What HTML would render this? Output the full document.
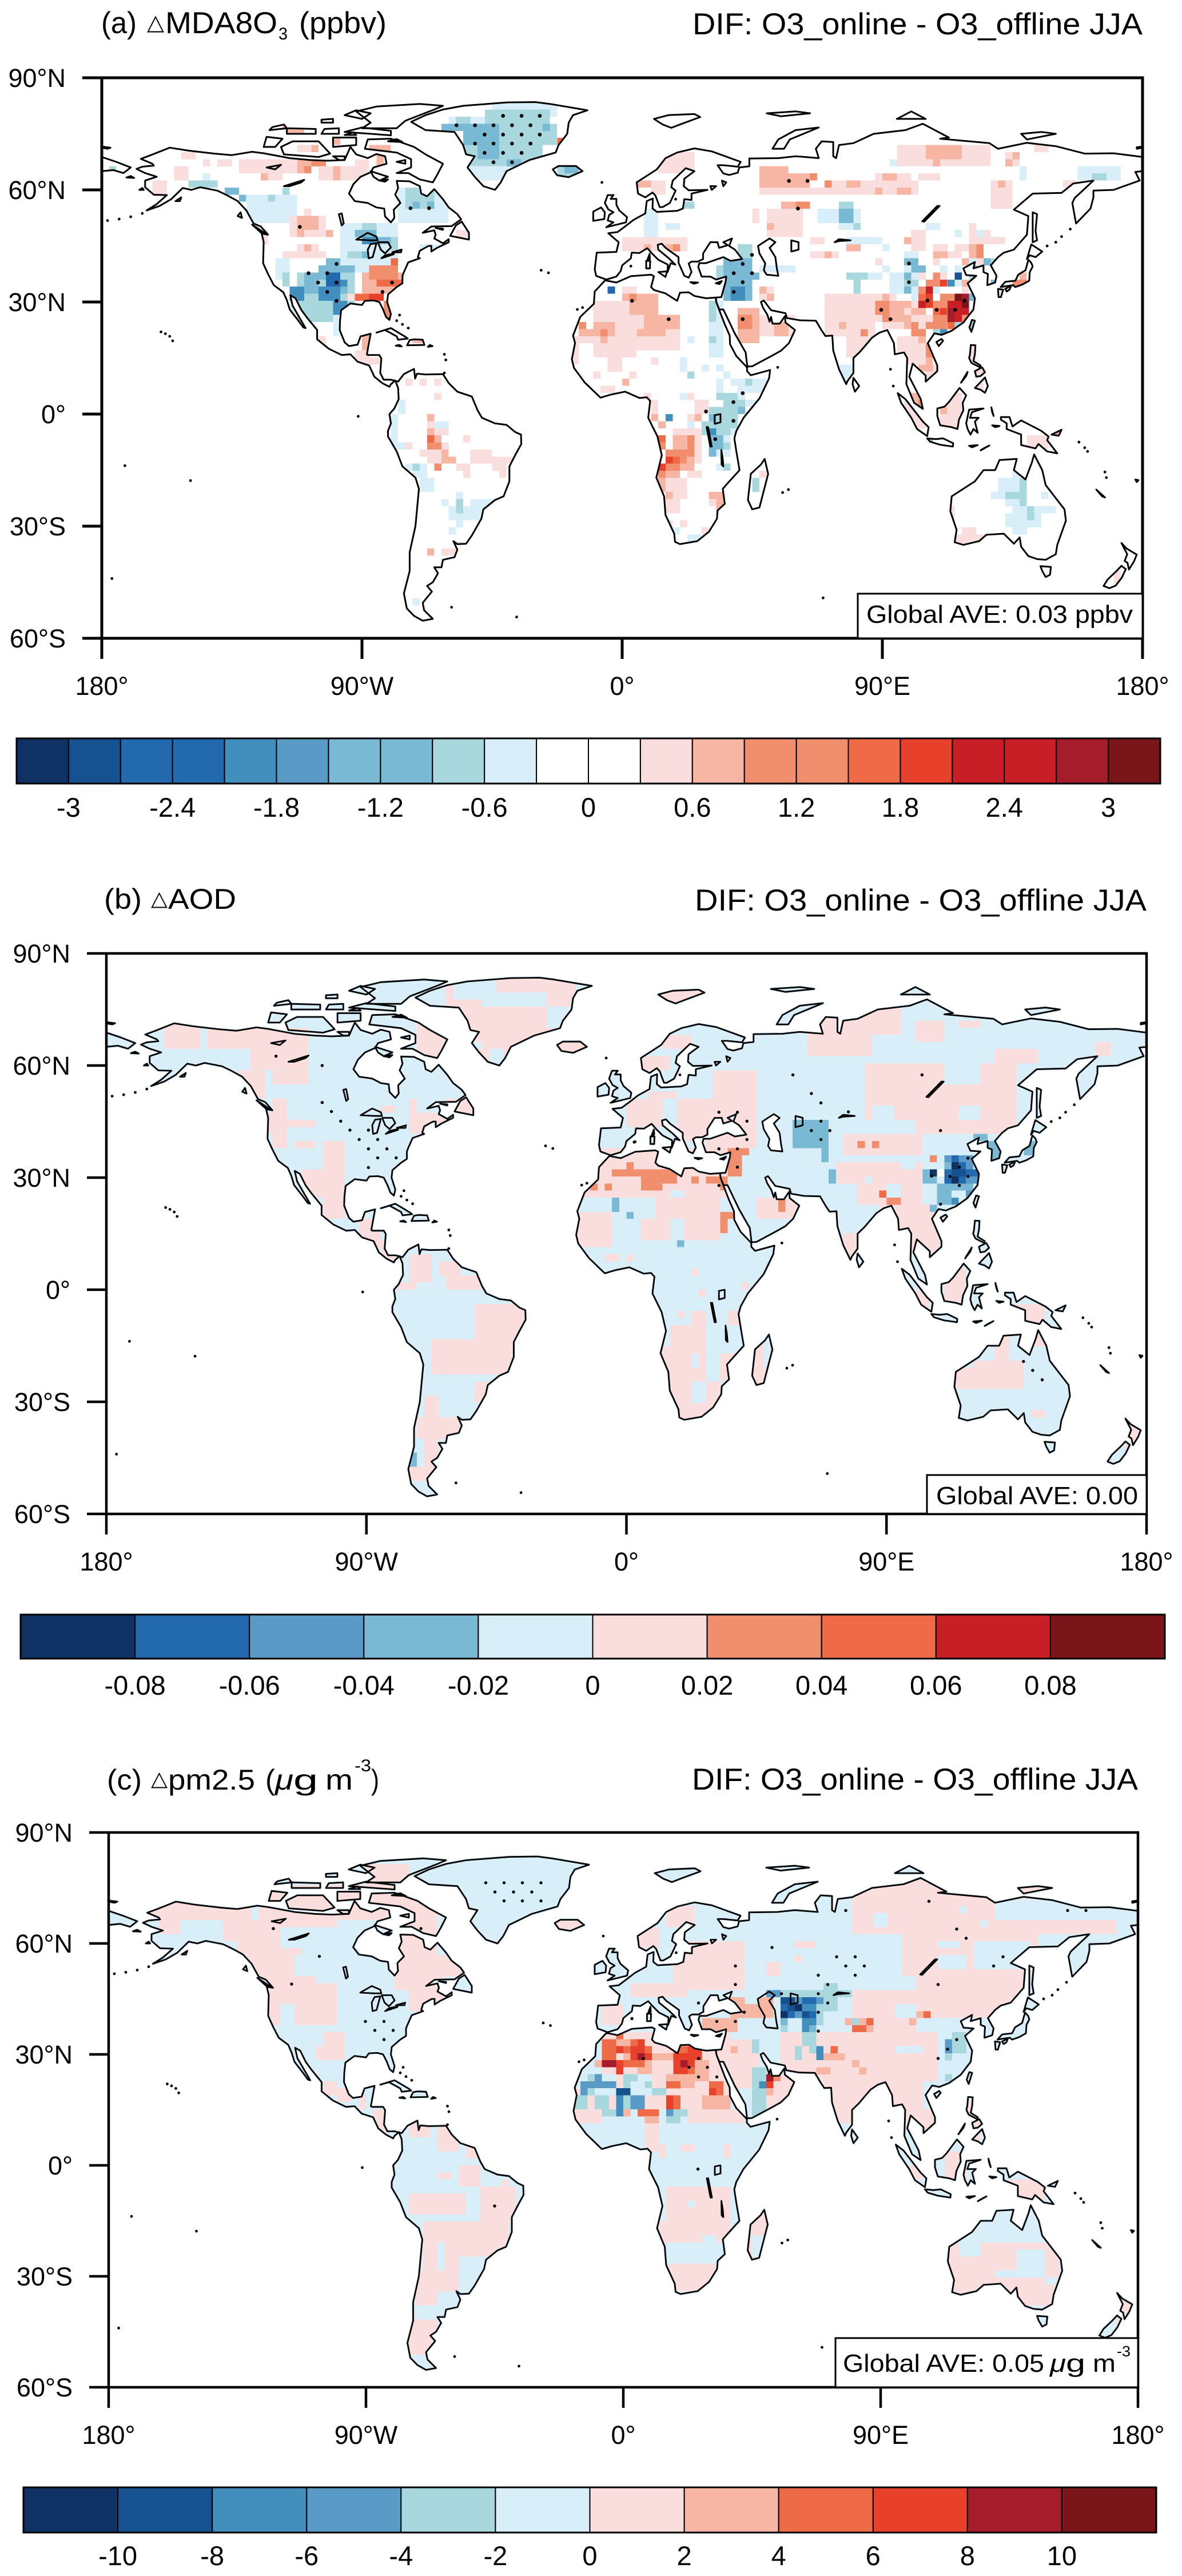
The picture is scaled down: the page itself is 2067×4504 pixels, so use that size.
<!DOCTYPE html>
<html lang="en">
<head>
<meta charset="utf-8">
<title>DIF: O3_online - O3_offline JJA</title>
<style>
html,body{margin:0;padding:0;background:#fff}
svg{display:block}
text{font-family:"Liberation Sans","DejaVu Sans",sans-serif;fill:#000}
</style>
</head>
<body>
<svg id="fig" xmlns="http://www.w3.org/2000/svg" width="2067" height="4504" viewBox="0 0 2067 4504"></svg>
<script>
/* ---------- palette: level code to colour ---------- */
const levelCodes = ['n','N','B','m','M','t','a','l','w','p','s','o','O','r','R','d','D'];
const levelColors = ['#103163','#165290','#2369ad','#428ebd','#5a9ac6','#79b9d3','#a8d8de','#d8eef8','#ffffff','#fadddd','#f7b6a4','#f08e6e','#ef6b47','#e8412b','#c81e25','#a51d2a','#7a1519'];

/* ---------- colour bars ---------- */
const barLevelsA = ['n','N','B','B','m','M','t','t','a','l','w','w','p','s','o','o','O','r','R','R','d','D'];
const barLabelsA = ['-3','-2.4','-1.8','-1.2','-0.6','0','0.6','1.2','1.8','2.4','3'];
const barLevelsB = ['n','B','M','t','l','p','o','O','R','D'];
const barLabelsB = ['-0.08','-0.06','-0.04','-0.02','0','0.02','0.04','0.06','0.08'];
const barLevelsC = ['n','N','m','M','a','l','p','s','O','r','d','D'];
const barLabelsC = ['-10','-8','-6','-4','-2','0','2','4','6','8','10'];

/* ---------- axis tick values ---------- */
const lonTicks = [-180,-90,0,90,180];
const lonTickLabels = ['180°','90°W','0°','90°E','180°'];
const latTicks = [90,60,30,0,-30,-60];
const latTickLabels = ['90°N','60°N','30°N','0°','30°S','60°S'];

/* ---------- coastlines (lon,lat pairs) ---------- */
const landPolygons = [
/* Americas */
[-168,65.6,-166,66.2,-162,66.5,-162.5,67,-166.5,68.3,-163,69.3,-156.5,71.3,-150,70.5,-141,69.7,-135,69.3,-128,70.2,-124,69.8,-115,68.5,-108,68,-102,67.8,-96,68,-94,71.5,-92,69.5,-88,68.5,-85,69.6,-82,69,-81.5,67,-86,66,-87,64.7,-90.5,63.5,-93,61.5,-94.5,59,-92.5,57,-88,56.5,-85,55.3,-82.3,55,-82,52.9,-80,51.3,-78.8,52.5,-79,54.7,-76.7,56.5,-78.5,58.7,-77.5,60.5,-78,62.4,-73.5,62.3,-70,61,-69.5,59,-67.5,58.3,-65,60.2,-62,57.5,-60,55.3,-57,53.5,-55.7,52.1,-59,50.3,-66,50.2,-69,48.5,-65,49.2,-64.5,48,-65,47,-62,45.7,-60,46.8,-60,46,-64,44.5,-66,43.5,-66,45,-67,45,-70,43.7,-70.7,42,-70,41.7,-74,40.6,-75.5,38,-76,37,-76,35,-78,34,-81,32,-81.3,30,-80,26.8,-80.5,25.2,-81.7,26,-82.7,28,-84,30,-86,30.4,-89,30.3,-90,29.2,-94,29.6,-97.2,27.8,-97.6,25,-97.7,22.5,-96,19.2,-94.5,18.2,-91.5,18.6,-90.5,20.8,-87,21.5,-87.6,19,-88.3,16,-88,15.8,-84,15.8,-83.3,14.9,-83.7,11,-82.5,9.2,-80,9.2,-77.5,8.7,-75.5,10.7,-72,12.1,-71.6,9.5,-71,10.8,-68,10.6,-62,10.7,-60,8.3,-57,6,-52,4.7,-50,1,-48.5,-1,-44,-2.5,-40,-2.9,-37,-4.8,-35,-5.5,-34.9,-8,-37,-11,-39,-14,-39,-18,-41,-22,-44,-23,-48,-25.5,-48.7,-28,-52,-32.5,-54,-34.7,-57,-34.8,-58.4,-34,-57,-36.3,-58,-38.3,-62,-39,-62.5,-41,-65,-41,-63.7,-42.6,-65.5,-45,-67.5,-46,-65.8,-47.5,-69,-50.5,-68.5,-52.5,-65.5,-54.8,-69,-55.3,-72,-54,-74.5,-52,-75.5,-48,-73.5,-42,-73.5,-37,-71.5,-30,-70.3,-20,-71.5,-17,-76,-14,-78,-10,-81,-6,-81,-4.5,-80,-2.5,-80.5,0,-78.8,1.5,-77.3,4,-77.5,7,-78.5,9,-80,8,-80.5,7.3,-83,8.3,-85.7,10,-87.5,13,-91.5,14,-94,16,-97,15.8,-101.5,17.5,-105.5,20,-105.5,22.5,-109,25.8,-111,27.9,-113,31,-114.8,31.8,-114,29,-111,25,-109.5,23,-110.3,23.2,-112,25,-115,28,-116,30.5,-117.2,32.6,-120.5,34.5,-122.5,37.5,-124.2,40.4,-124,46,-124.7,48.3,-122.5,48,-125,50.2,-127.5,51,-130,54.5,-133,57,-136.5,58.5,-140,59.8,-146,60.7,-149,60,-152,60.5,-154,59,-156,57.5,-160,55.7,-164.5,54.5,-161,56.2,-157.5,58.6,-162,58.7,-165,60.7,-165,62.5,-161,63.5,-165,64.5],
/* Greenland */
[-73,78.2,-68,76,-58,75.5,-55,72,-54,69.5,-51,69,-53.5,66,-51,63.5,-48,61,-44,60,-42,62,-40,65,-32,68,-23,70,-22,72,-19,75,-18.5,78,-17,80,-12,81.3,-25,83,-30,83.5,-40,83.4,-55,82.5,-62,81.5,-68,80],
/* Arctic Canada */
[-80,73.7,-72,71.5,-68,69.5,-62,67,-64,64,-65.5,62,-70,62.8,-74,64.5,-78,64.5,-73,66,-73,68.2,-78,70,-89,71,-88,73.5],
[-117,69.5,-105,68.8,-101,69.7,-105,73,-114,73,-118,71.5],
[-124,71.5,-120,71.5,-117.5,73.7,-123,74.2],
[-90,76.5,-78,76.5,-75,78.5,-65,81.5,-62,82.5,-70,83,-85,82.3,-92,81,-87,78],
[-96,75.5,-80,74.6,-80,75.8,-90,76.7],
[-116,75,-106,75,-106,76.3,-116,76.5],
[-100,71.5,-92,72,-92,74,-100,74],
[-96,80,-90,79,-87,80.5,-92,81.3],
[-87,65,-81,63.5,-84,62.5,-86,63.5],
[-122,76,-116,76.5,-117,77.5,-121,76.8],
[-104,75,-98,75,-98,76.5,-103,76.3],
[-96,74.7,-92,74.7,-93,75.4],
[-104,78,-100,78,-100,79,-104,78.8],
[-81,73,-76,72.8,-78,73.6],
[-100,69,-96,69,-96,68,-98,68],
[-84,62.5,-81,62.8,-82,62.2],
[-78,67.5,-75,68,-75,67],
/* Alaska and Pacific Canada islands */
[-154.5,57,-152.5,58,-153,57],
[-171.5,63.3,-168.8,63.2,-170,63.7],
[-167,60,-165.5,60,-166,60.5],
[-133,53,-131.5,52.5,-132,54],
/* N Atlantic, Caribbean */
[-64.5,49.8,-62,49.3,-62,49.6],
[-59.5,47.7,-53,46.7,-53,48.5,-55.5,51.5,-57.5,50.5],
[-85,21.8,-80,23,-75,20.7,-74.2,20.2,-77.5,19.9,-78,20.8,-82,22.5],
[-74.4,18.4,-68.4,18.5,-69,19.9,-72,20,-73.5,19.8],
[-78.3,18.3,-76.3,18.1,-77,18.5],
[-67.2,18,-65.6,18.2,-66.5,18.5],
[-128,50.7,-123.5,48.4,-125,48.6],
[-24,65.5,-22,66.4,-16,66.4,-13.7,65,-18.5,63.4,-22.5,63.9],
[-5.5,50,1.3,51.3,1.7,52.7,-1,54.5,-2,56,-2,57.6,-4,57.6,-3,58.6,-5,58.6,-6,56.5,-4.8,54.8,-3,54,-4.5,53.3,-5,51.8,-3,51.3],
[-10,51.7,-6.2,52.2,-6,54,-7.3,55.3,-10,54.2],
/* Arctic Eurasia */
[11,79,16,80,25,80.3,27,79.5,20,77.5,17,76.6,14,77.5],
[52,71,56,71,58,73.5,68,76.7,60,76,54,73.5],
[50,80.5,60,81,65,80.5,55,79.7],
[95,79,105,79,100,81],
[138,75,145,75.5,150,75,140,73.5],
[-180,71.3,-178,71,-177,71.3,-180,71.6],
[178,71,180,71.3,180,71.6,178,71.4],
/* Africa */
[-5.9,35.8,-2,35.2,3,36.9,10,37.3,11,36.9,10,34,11,33.2,15,32.3,19,30.3,20,32.5,23,32.6,25,31.6,29,31,32.3,31.2,32.6,29.9,34,27,35.5,24,37.2,21,37.3,18.7,39.5,15.5,43.2,12.5,43.2,11.5,44.5,10.4,51.2,11.8,50.8,9.5,47.5,4.2,42,-1,39.5,-4.5,38.8,-6.5,39.5,-10,40.6,-15,36.5,-18.5,34.8,-20,35.5,-24,33,-25.8,32.8,-28,30,-31.5,26,-34,20,-34.8,18.3,-34.2,18,-32,15,-27,14.5,-22,11.8,-17,13.7,-11,12.2,-6,9,-1,9.7,3.5,8.5,4.5,6,4.3,1,6,-4,5.2,-7.5,4.4,-13,8.5,-16.7,12.4,-17.4,14.7,-16.3,19,-17,21,-14.5,26,-9.8,29.5,-9.5,32.8],
/* Eurasia */
[-5.5,36,-9,37,-9.5,38.7,-8.8,43.2,-2,43.4,-1.2,46,-4.8,48.4,-1.6,48.7,1.5,50.5,4,52,8,53.7,8.5,57,10.6,57.7,10.5,55,12,54.1,19,54.4,21,55,21.5,57.5,24,57.3,24,59,29.5,60,23,59.9,21.3,61,21.5,63,25,65,22,65.8,17.5,62.5,17,60.7,18.5,59.8,16.5,56.5,14,55.4,13,55.4,11.5,58.5,10.5,59.3,8,58,5.5,59,5,62,12,65.5,15,68.5,19,70,25,71.1,31,70.3,41,67.5,40,66.2,35,66.6,33,66.6,35,64.4,37,64,40,64.6,40.5,66,44,66.3,44,68.4,54,68.5,60,69,68,68.5,67,71,69,73,73,72.8,73,69,74,68.5,75,72,80,72.5,87,75,98,76,104,77.7,113,74,110,73.7,127,72.5,130,71,140,72.6,150,71.7,160,69.7,170,69.8,180,68.8,180,65,177.5,64.8,179,62.5,170,60,163,59.8,163,58,162,55,157,51,155.7,56.5,156.5,57.8,163,62.5,156,61.7,152,59.2,142,59,135.5,54.7,140.5,53,140,48,135.5,44,132,43.2,130,42,127.5,39.8,129.5,37,129,35.2,126.3,34.5,126.5,37.5,125,38,125,39.8,121.5,39,122,40.7,118,39,119,37.2,122.5,37,119.5,35,122,31,121.5,28,118,24.5,114,22.3,110.5,21.2,108,21.6,105.7,19,109,13,109,11.5,105,8.7,105,10.3,100.5,13.5,99.3,10,103.3,4,104,1.4,101,3,98.3,8,98.6,15,97.5,16.5,94.3,16,94,19,91.7,22.5,89,21.8,86.5,20.5,82.3,16.7,80,15,80,11,78,8.9,77.5,8,75,12,73,17,72.7,21,70.3,20.9,69,22.4,67,25,61.5,25.1,57,25.7,56.5,27,51.5,27.8,49,30.4,48,30,48.7,28.5,50.2,26.6,51,24.7,51.5,26,52,24.2,54.5,24.2,56.3,26.2,56.5,24.5,59.8,22.5,57.7,19,55,17,52,15.7,45,12.8,43.3,12.7,42.7,16.5,39,21.5,35,28,34.3,28,33.6,28,32.6,29.9,32.4,31.2,34.3,31.3,35.8,35.5,36,36.8,32.5,36,30.5,36.8,27.5,36.8,26.3,39.4,26.7,40.4,29,40.4,35,42,37.5,41,41.5,41.5,39,44,37,45,38,47,35,46,36.5,45.2,33.5,44.5,33,46,30.5,46,28,43,28,41.5,26.2,40.8,24,40.8,23,40.3,24,38,23,36.5,21.5,37,19.5,40.5,19.5,42,15,44.5,13.7,45.6,12.3,45.3,12.5,44,16,41.8,18.4,40,16.8,40.4,15.7,38,15.8,40,12.5,41.3,10.3,43,8.7,44.4,6,43.1,3.3,43.2,3,41.7,0,39.8,-0.5,38.3,-2,36.8],
/* Chukotka west of the dateline */
[-180,68.8,-175,67.5,-170,66,-172.5,64.5,-176,65.3,-180,65],
/* Indian Ocean, SE Asia */
[49.3,-12,50.5,-16,47.5,-25,45,-25.5,43.5,-23,44.5,-16,48,-13.5],
[80,9.7,82,7.5,80.5,6,79.7,8],
[95.3,5.6,98,4,104,-2,106,-3.5,105.5,-5.9,102,-4,100,-1,96.5,3],
[105.5,-6.5,108.5,-6.7,111,-6.5,114.5,-7.8,114.4,-8.7,110,-8.2,106.5,-7.4],
[109,1.5,111.5,2,113,3.2,116.7,7,119,5,117.8,3,118,1,116.5,-1.5,116,-4,114,-3.5,110,-3,109,-0.5],
[120,1.2,125,1.5,121,0.5,120.3,-1,123.3,-1,122,-2,123,-5,121.5,-4,120.5,-5.5,119.5,-4,119,-2.5],
[131,-0.8,134,-0.8,135,-3.3,138,-1.7,145,-4.5,147.5,-6,147,-7,150.5,-10.5,147,-10,144,-8,143,-9.2,138,-8.3,138,-5.5,133,-4,133,-2.5,131,-1.5],
[120.3,16,120.6,18.5,122.2,18.4,122,16,121.5,14.2,124,13,123.8,12.5,120.8,13.7,120,15],
[122,7,125.5,9.8,126.5,7.5,125.5,5.7,124,6.5],
[117.2,8.4,119.5,11.3,119,10.2],
[124.5,12.5,125.5,11.2,124,10.2,122.5,10,122,11.5],
[148.5,-5.5,152,-4.2,151,-5.8],
[124,-9.7,127,-8.4,125,-9.2],
[120,-8.5,123,-8.3,121,-8.9],
[127.7,1.8,128.5,-0.5,128,0.5],
[128,-3,130.5,-3.2,129,-3.5],
[121,25.2,122,25,120.8,22,120.1,23.2],
[108.7,19.3,110.5,20.1,111,19.6,109.5,18.2],
/* Japan, Sakhalin */
[130.9,34,132.5,35.4,136,35.7,137,37.3,139.5,38.5,140.5,41.3,141.5,40.5,142,39.5,141,38,140.8,35.7,138.5,34.7,136,34,135.2,34.5,132.5,34.2],
[130,33.5,131.8,33.3,131,31.3,130.2,31.3],
[132.5,33.5,134.5,34.3,134,33.3,133,32.8],
[140,41.5,141.5,45.4,145.3,43.5,143,42,141,42.5],
[142,46,142,54,143.5,53.5,143,49,143.5,46.5],
/* Oceania */
[113.5,-26,114,-22,122,-18,125,-15,129,-15,130.5,-12.3,136.5,-12,135.5,-15,139.5,-17.5,141.7,-13,142.5,-10.8,145.3,-15,146.5,-19,150,-22.5,153,-25.5,153.5,-28.5,150.5,-35,150,-37.5,146.5,-39,143.5,-38.8,140.5,-38,138,-35.5,137.5,-33,135.5,-34.7,132,-32,126,-32.3,123.5,-34,118,-35,115,-34.3,115.7,-31],
[144.7,-40.7,148.3,-40.9,148,-43,146.5,-43.6,145.3,-42],
[172.7,-34.5,174.5,-36,178,-37.6,177,-39.5,175.3,-41.6,174.8,-39.8,173.8,-39.3,174.7,-37.5],
[172.7,-40.6,174.2,-41.5,172.8,-43.8,170.7,-45.9,168.5,-46.6,166.5,-46,168,-44.2,171,-42],
[164,-20.2,167,-22.3,166,-22],
[177.5,-17.5,178.6,-17.7,178,-18.2],
/* Mediterranean islands */
[8.6,41,9.5,42.9,9.6,41.5],[8.3,39,8.3,41,9.7,41,9.6,39],[12.5,38,15.5,38.2,15,36.7],[23.6,35.3,26.2,35.2,24.8,34.9],[32.4,35,34.5,35.6,33.7,34.8]
];
const lakePolygons = [
[47,45,51,47,53,46,51,44.5,53,42,53.5,39,54,37,50,37.3,49,38.5,49.5,40.3,47.5,43],
[58.5,46.5,61,46,61,44,58.5,43.5],
[73.5,46,75,46.8,79,46.5,75,46.3],
[103.8,51.6,104.5,51.5,109.8,55.7,109,55.7],
[32,-0.3,34,0,34,-2.2,32,-2.6],
[29.2,-3.5,29.7,-3.5,31,-8.7,30.5,-8.7],
[34.3,-9.6,34.8,-12,35,-14,34.4,-13.5],
[-92,46.7,-88,48.5,-85,47.5,-84.6,46.5,-87,46.5],
[-87.7,41.7,-86.3,42,-85,45.7,-87,45.5,-88,44],
[-84.5,46,-81,46,-80,44.6,-82,43,-83.5,44],
[-83.3,41.7,-79,42.8,-79,43,-82,42.5],
[-79.5,43.3,-76.3,44,-76.5,43.3],
[-98,53.5,-97,50.5,-96.3,51,-97,53.7],
[-123,66,-118,66.7,-120,65.5],
[-117,61,-110,62.7,-111,62,-115,61],
[31,60,32.5,61,30.5,61],
[35,61,36,62,34.5,62.5]
];
const islandSpecks = [[-178,51.8],[-174,52.2],[-170,52.8],[-166,53.7],[147,45],[150,46],[152,47.5],[155,49.5],[-155.5,19.6],[-156.5,20.8],[-158,21.5],[-159.5,22],[-149.3,-17.8],[-172,-13.8],[-176.5,-44],[-91.3,-0.6],[-59,-51.7],[-36.5,-54.3],[69.5,-49.2],[57.5,-20.2],[55.5,-21],[53.8,12.5],[-28,38.5],[-25.5,37.8],[-15.5,28],[-13.7,28.5],[167,-15.5],[167.5,-17],[158,-7.5],[160,-9],[161,-10],[92.8,12],[93.8,7.5],[3,39.6],[18.5,57.5],[-7,62],[-78,25],[-77,26.5],[-76,24],[-74,23],[-61.5,16],[-61,14.5],[-61.5,11]];

/* ---------- panel (a) MDA8 ozone difference: [lon0,lon1,lat0,lat1,level] ---------- */
const patchesA = [
[-46,-22,79,84,'l'],[-60,-47,78,80,'l'],[-52,-28,62,67,'l'],[-47,-26,77,82,'a'],[-57.5,-52.5,78,80,'a'],[-62,-42,75,77.5,'t'],[-42,-22,72,78,'a'],[-35,-32.5,74,76,'t'],[-27.5,-25,75,77.5,'t'],[-55,-27.5,66,75,'a'],[-55,-42.5,72,75,'t'],[-50,-42.5,68,72,'t'],[-40,-35,66,67.5,'t'],[-22.5,-20,72,74,'O'],
[-22.5,-15,63,66,'a'],[-20,-15,64,66,'t'],
[-180,-176,62,65,'p'],[-177.5,-175,65,67,'a'],
[-152.5,-147.5,68,70,'p'],[-145,-142.5,66,68,'p'],[-140,-135,66,68,'p'],[-155,-150,62,66,'p'],[-162.5,-157.5,58,62,'p'],
[-132.5,-112.5,64,68,'p'],[-112.5,-107.5,64,68,'s'],[-107.5,-102.5,66,68,'o'],[-110,-107.5,64,66,'o'],[-125,-122.5,62,64,'s'],[-122.5,-117.5,62,64,'p'],[-105,-87.5,62,66,'p'],[-100,-97.5,62,66,'s'],[-92.5,-87.5,66,68,'p'],
[-117.5,-110,73,77,'s'],[-112.5,-107.5,70,72,'p'],[-107.5,-105,70,72,'s'],[-100,-97.5,71.5,73.5,'s'],[-87.5,-80,69.5,72,'s'],[-85,-82.5,66.5,69.5,'s'],
[-130,-112.5,52,58,'l'],[-137.5,-132.5,58,60,'t'],[-132.5,-130,56,58,'t'],[-150,-140,60,62,'a'],[-145,-142.5,62,64,'l'],[-117.5,-115,58,60,'a'],[-122.5,-120,56,58,'a'],
[-115,-102.5,47,53,'p'],[-110,-107.5,53,55,'p'],[-112.5,-105,50,53,'s'],[-112.5,-110,48,50,'s'],[-102.5,-100,48,50,'s'],
[-117.5,-102.5,42,44,'p'],[-112.5,-105,44,46,'p'],[-110,-107.5,44,46,'s'],
[-77.5,-60,52,61,'l'],[-75,-65,54,60,'a'],[-72.5,-70,54,56,'t'],[-67.5,-65,54,56,'t'],
[-97.5,-77.5,40,52,'l'],[-90,-85,50,52,'a'],[-92.5,-85,47.5,50,'t'],[-90,-85,46,48,'m'],[-85,-80,45,47.5,'t'],[-80,-77.5,44,47,'a'],[-95,-87.5,42,44,'a'],[-90,-87.5,42,44,'t'],
[-120,-115,36,42,'l'],[-97.5,-87.5,38,42,'l'],[-102.5,-97.5,39,41,'t'],
[-112.5,-92.5,24,38,'a'],[-110,-105,33,38,'t'],[-105,-92.5,36,39,'t'],[-102.5,-97.5,34,37,'B'],[-97.5,-95,34,36,'m'],[-105,-97.5,30,34,'m'],[-97.5,-95,32,34,'t'],[-100,-95,26,30,'m'],[-105,-97.5,24,26,'a'],[-115,-110,31,34,'m'],[-117.5,-115,35,38,'a'],[-115,-112.5,27,30,'l'],[-97.5,-92.5,36,38,'a'],
[-90,-75,32.5,38,'s'],[-87.5,-77.5,36,40,'o'],[-80,-77.5,39,42,'O'],[-85,-75,34,36,'O'],[-92.5,-82.5,30,33,'O'],[-87.5,-82.5,30,32,'r'],[-82.5,-80,25,31,'o'],[-95,-92.5,30,32,'p'],
[-90,-85,17,22,'s'],[-92.5,-87.5,14,17,'p'],[-90,-82.5,13,16,'p'],[-105,-102.5,17,20,'p'],[-100,-92.5,20,26,'l'],[-72.5,-67.5,18,20,'s'],
[-57.5,-52.5,47,50,'p'],[-70,-62.5,44,46,'l'],[-127.5,-122.5,46,50,'p'],
/* South America */
[-75,-72.5,8,10,'p'],[-70,-67.5,8,10,'p'],[-65,-62.5,8,10,'p'],[-65,-62.5,4,6,'p'],[-77.5,-75,0,4,'l'],[-80,-77.5,-8,0,'l'],[-67.5,-65,-2,0,'s'],[-67.5,-65,-4,-2,'p'],[-65,-60,-4,-2,'l'],[-67.5,-65,-6,-4,'s'],[-65,-60,-6,-4,'p'],[-67.5,-65,-8,-6,'O'],[-65,-62.5,-8,-6,'s'],[-55,-52.5,-8,-6,'p'],[-67.5,-62.5,-10,-8,'o'],[-62.5,-60,-10,-8,'p'],[-75,-72.5,-10,-8,'p'],[-80,-75,-10,-8,'l'],[-70,-62.5,-12,-10,'p'],[-62.5,-60,-12,-10,'s'],[-52.5,-45,-12,-10,'p'],[-67.5,-62.5,-14,-12,'p'],[-62.5,-57.5,-14,-12,'s'],[-52.5,-37.5,-14,-12,'p'],[-75,-67.5,-16,-14,'l'],[-72.5,-70,-16,-14,'a'],[-65,-62.5,-16,-14,'o'],[-57.5,-52.5,-16,-14,'p'],[-45,-40,-16,-14,'p'],[-72.5,-67.5,-18,-16,'l'],[-55,-52.5,-18,-16,'p'],[-42.5,-40,-18,-16,'p'],[-70,-65,-20,-18,'l'],[-57.5,-55,-22,-20,'l'],[-60,-47.5,-28,-24,'l'],[-52.5,-42.5,-24,-22,'l'],[-62.5,-60,-24,-22,'l'],[-57.5,-55,-26,-22,'a'],[-57.5,-55,-30,-28,'l'],[-60,-57.5,-32,-30,'l'],[-57.5,-55,-36,-34,'p'],[-67.5,-65,-38,-36,'s'],[-62.5,-57.5,-38,-36,'p'],[-72.5,-70,-52,-51,'l'],
/* Europe, Russia */
[12.5,25,64,70,'p'],[5,10,60,62,'s'],[10,15,58,62,'p'],[47.5,57.5,60,67,'s'],[60,62.5,60,64,'o'],[65,67.5,62,64,'o'],[57.5,65,60,64,'s'],[47.5,70,58,60,'p'],[70,102.5,58,62,'p'],[70,72.5,60,62,'o'],[77.5,82.5,60,62,'s'],[87.5,90,58,60,'s'],[95,100,58,60,'s'],[87.5,100,62,64,'p'],[90,95,62,64,'s'],[102.5,110,62,64,'p'],[92.5,97.5,66,68,'l'],[95,127.5,66,72,'p'],[105,117.5,68,72,'s'],[107.5,110,66,68,'s'],[132.5,137.5,66,70,'p'],[135,137.5,68,70,'s'],[132.5,135,66,68,'s'],[157.5,172.5,62,67,'l'],[162.5,167.5,63,65,'a'],[137.5,140,63,67,'l'],[142.5,147.5,70,72,'p'],[127.5,135,54,62,'p'],[130,132.5,60,62,'s'],[152.5,157.5,60,62,'p'],
[50,62.5,48,54,'p'],[55,65,54,56,'s'],[60,65,54,56,'o'],[50,52.5,50,52,'s'],[45,47.5,52,54,'p'],[67.5,82.5,52,54,'l'],[75,80,54,56,'a'],[75,80,52,54,'t'],[80,82.5,50,52,'a'],[75,80,50,52,'l'],[65,70,46,48,'p'],[77.5,85,46,48,'l'],
[0,22.5,44,48,'p'],[7.5,10,44,46,'s'],[15,20,44,46,'s'],[17.5,20,44,46,'o'],[7.5,12.5,48,54,'l'],[15,20,50,52,'l'],[20,25,54,56,'a'],
[40,45,42,46,'a'],[32.5,35,36,40,'a'],[35,45,30,42,'t'],[45,47.5,36,38,'t'],[37.5,42.5,31,34,'m'],[47.5,60,37,38,'l'],[30,35,16,30,'l'],[30,32.5,24,30,'a'],[30,32.5,18,20,'a'],
[40,47.5,20,28,'s'],[40,45,22,26,'o'],[47.5,60,20,26,'p'],[52.5,57.5,20,24,'s'],[40,47.5,18,20,'s'],
[70,87.5,20,32,'p'],[75,77.5,22,24,'s'],[82.5,85,18,20,'o'],[77.5,90,16,20,'p'],[75,80,8,14,'l'],
[65,75,41,44,'p'],[70,72.5,41,43,'s'],[77.5,82.5,44,46,'s'],[77.5,85,36,38,'a'],[80,82.5,32,36,'a'],[47.5,52.5,30,34,'p'],[47.5,50,32,34,'s'],[50,52.5,30,32,'s'],
/* East Asia */
[100,105,44,50,'p'],[97.5,100,46,48,'s'],[85,90,46,48,'l'],[90,92.5,44,46,'l'],[105,110,50,52,'l'],[107.5,112.5,44,46,'p'],[115,120,44,46,'p'],[120,122.5,42,46,'s'],[122.5,125,42,46,'o'],[120,132.5,46,48,'p'],[120,122.5,48,52,'p'],[125,127.5,48,50,'p'],[122.5,125,48,50,'l'],[115,117.5,48,50,'l'],[107.5,112.5,42,44,'s'],[112.5,117.5,42,44,'p'],[97.5,102.5,42,44,'l'],[97.5,102.5,40,42,'t'],[87.5,90,40,42,'p'],[107.5,110,40,42,'p'],[117.5,120,40,42,'s'],[120,122.5,40,42,'l'],[122.5,125,40,42,'p'],[125,127.5,40,42,'t'],[127.5,130,40,42,'a'],[90,92.5,38,40,'l'],[97.5,100,38,40,'l'],[100,105,38,40,'t'],[110,112.5,38,40,'l'],[115,117.5,38,40,'l'],[120,122.5,38,40,'t'],[82.5,85,36,38,'a'],[85,90,36,38,'l'],[92.5,97.5,36,38,'l'],[97.5,100,36,38,'t'],[100,102.5,36,38,'l'],[102.5,105,36,38,'p'],[107.5,110,36,38,'o'],[110,112.5,36,38,'p'],[115,117.5,36,38,'N'],[120,122.5,36,38,'a'],[92.5,97.5,34,36,'l'],[97.5,102.5,34,36,'a'],[105,110,34,36,'o'],[110,112.5,34,36,'r'],[112.5,115,34,36,'m'],[115,117.5,34,36,'l'],[117.5,120,34,36,'s'],[127.5,130,34,36,'t'],[92.5,97.5,32,34,'l'],[97.5,100,32,34,'t'],[100,102.5,32,34,'l'],[102.5,105,32,34,'o'],[105,107.5,32,34,'R'],[107.5,110,32,34,'l'],[117.5,120,32,34,'p'],[87.5,90,30,32,'p'],[90,92.5,30,32,'s'],[92.5,95,30,32,'p'],[100,102.5,30,32,'l'],[102.5,105,30,32,'O'],[105,107.5,30,32,'r'],[110,115,30,32,'o'],[115,117.5,30,32,'D'],[117.5,120,30,32,'d'],[120,122.5,30,32,'t'],[85,87.5,28,30,'p'],[87.5,92.5,28,30,'o'],[92.5,100,28,30,'s'],[100,102.5,28,30,'p'],[102.5,105,28,30,'R'],[105,107.5,28,30,'r'],[107.5,112.5,28,30,'o'],[112.5,117.5,28,30,'R'],[117.5,120,28,30,'D'],[85,87.5,26,28,'p'],[87.5,92.5,26,28,'o'],[92.5,97.5,26,28,'s'],[97.5,100,26,28,'p'],[100,105,26,28,'s'],[107.5,110,26,28,'O'],[110,112.5,26,28,'r'],[112.5,115,26,28,'d'],[115,120,26,28,'R'],[82.5,85,24,26,'p'],[87.5,90,24,26,'p'],[90,92.5,24,26,'o'],[92.5,100,24,26,'s'],[100,107.5,24,26,'p'],[107.5,112.5,24,26,'o'],[112.5,115,24,26,'d'],[115,117.5,24,26,'R'],[117.5,120,24,26,'o'],[90,97.5,22,24,'p'],[97.5,100,22,24,'s'],[100,102.5,22,24,'o'],[102.5,105,22,24,'p'],[105,112.5,22,24,'o'],[112.5,115,22,24,'O'],[115,117.5,22,24,'a'],[120,122.5,22,24,'a'],[82.5,85,20,22,'o'],[100,105,20,22,'o'],[107.5,110,20,22,'a'],[110,112.5,20,22,'m'],[95,102.5,18,20,'p'],[102.5,105,18,20,'s'],[95,105,16,18,'p'],[105,107.5,16,18,'o'],[97.5,105,14,16,'p'],[105,107.5,14,16,'s'],[102.5,107.5,12,14,'s'],[107.5,110,12,14,'p'],[105,110,10,12,'p'],
[135,140,34,36,'o'],[137.5,140,36,38,'s'],[130,135,32,34,'l'],
/* Africa */
[-5,-2.5,32,34,'B'],[0,5,32,34,'p'],[0,12.5,26,32,'s'],[2.5,5,30,32,'o'],[-10,2.5,15,30,'p'],[-10,-2.5,20,24,'s'],[-15,-12.5,22,24,'o'],[-15,-7.5,20,22,'s'],[-7.5,-5,20,22,'o'],[-2.5,20,17,26,'p'],[7.5,20,22,26,'s'],[5,15,20,22,'s'],[-15,-7.5,18,20,'p'],[-7.5,-5,18,20,'s'],[-17.5,-15,14,20,'p'],[5,17.5,18,20,'p'],[2.5,5,16,18,'p'],[-5,0,12,15,'p'],[10,12.5,14,16,'p'],[20,22.5,12,16,'l'],[22.5,25,18,20,'l'],[30,32.5,18,20,'a'],[22.5,25,10,12,'a'],[27.5,30,12,14,'l'],[32.5,35,12,14,'l'],[35,37.5,10,12,'l'],[-10,-7.5,10,12,'p'],[2.5,5,10,12,'p'],[0,2.5,8,10,'s'],[32.5,35,6,10,'l'],[37.5,50,8,10,'l'],[42.5,45,8,10,'a'],[40,50,6,8,'l'],[-7.5,-2.5,6,8,'p'],
[32.5,40,4,6,'a'],[40,42.5,4,6,'l'],[35,42.5,2,4,'a'],[42.5,47.5,2,4,'l'],[40,42.5,0,2,'t'],[30,40,-2,2,'a'],[30,32.5,-2,0,'t'],[7.5,10,4,6,'p'],[20,22.5,4,6,'l'],[22.5,25,4,6,'p'],[25,30,0,4,'p'],[10,12.5,0,4,'p'],[10,12.5,-2,0,'s'],[15,17.5,-2,0,'m'],[25,27.5,-2,0,'s'],[22.5,25,-2,0,'p'],[12.5,15,-4,-2,'s'],[22.5,25,-4,-2,'l'],[27.5,40,-4,-2,'a'],[17.5,27.5,-6,-4,'p'],[27.5,37.5,-6,-4,'a'],[30,32.5,-6,-4,'m'],[37.5,40,-6,-4,'l'],
[12.5,15,-8,-6,'O'],[17.5,25,-8,-6,'s'],[22.5,25,-8,-6,'o'],[25,27.5,-8,-6,'p'],[30,35,-8,-6,'t'],[35,37.5,-8,-6,'l'],[12.5,15,-10,-8,'o'],[17.5,22.5,-10,-8,'s'],[22.5,25,-10,-8,'o'],[25,27.5,-10,-8,'p'],[30,35,-10,-8,'t'],[35,37.5,-10,-8,'a'],[15,25,-12,-10,'o'],[25,27.5,-12,-10,'p'],[30,32.5,-12,-10,'t'],[32.5,37.5,-12,-10,'l'],[15,17.5,-14,-12,'r'],[17.5,20,-14,-12,'O'],[20,22.5,-14,-12,'o'],[22.5,25,-14,-12,'s'],[25,27.5,-14,-12,'p'],[12.5,15,-16,-14,'r'],[15,20,-16,-14,'o'],[20,25,-16,-14,'s'],[32.5,35,-16,-14,'l'],[35,37.5,-16,-14,'a'],[12.5,15,-18,-16,'o'],[15,20,-18,-16,'s'],[22.5,27.5,-18,-16,'p'],[12.5,15,-20,-18,'s'],[15,22.5,-20,-18,'p'],[15,17.5,-22,-20,'s'],[17.5,22.5,-22,-20,'p'],[30,35,-22,-20,'s'],[15,20,-24,-22,'p'],[30,32.5,-24,-22,'p'],[32.5,35,-24,-22,'s'],[15,20,-26,-24,'p'],[32.5,35,-26,-24,'s'],[20,22.5,-30,-28,'p'],[15,17.5,-30,-28,'p'],[17.5,20,-32,-30,'l'],[27.5,30,-32,-30,'p'],[22.5,27.5,-34,-32,'l'],[45,47.5,-20,-18,'a'],[47.5,50,-18,-16,'p'],
/* Australia, SE Asia islands */
[135,137.5,-18,-16,'l'],[130,137.5,-20,-18,'l'],[137.5,140,-24,-18,'a'],[127.5,132.5,-22,-20,'l'],[132.5,137.5,-22,-20,'a'],[145,147.5,-22,-20,'l'],[132.5,137.5,-24,-22,'l'],[135,140,-26,-24,'l'],[142.5,150,-26,-24,'l'],[132.5,145,-30,-26,'l'],[140,142.5,-28,-24,'a'],[135,140,-32,-30,'l'],[112.5,115,-28,-24,'p'],[117.5,122.5,-32,-30,'p'],[115,125,-34,-32,'p'],[115,120,-36,-34,'p'],
[97.5,105,-4,5,'p'],[100,105,2,6,'s'],[102.5,105,2,4,'o'],[105,107.5,-8,-6,'t'],[110,117.5,-4,6,'p'],[110,112.5,0,2,'s'],[140,147.5,-10,-6,'p'],[150,152.5,-6,-4,'s'],[170,172.5,-45,-41,'p'],[120,125,6,20,'p']
];
const dotsA = [[-41.2,79.8],[-34.8,79.8],[-28.5,79.8],[-57.3,77.3],[-50.9,77.3],[-44.5,77.3],[-38.1,77.3],[-31.7,77.3],[-47.6,74.8],[-41.2,74.8],[-34.8,74.8],[-28.5,74.8],[-50.9,72.4],[-44.5,72.4],[-38.1,72.4],[-31.7,72.4],[-47.6,69.9],[-41.2,69.9],[-34.8,69.9],[-44.5,67.4],[-38.1,67.4],[-73.2,55.1],[-66.8,55.1],[-111.5,50.1],[-98.8,40.2],[-108.5,37.7],[-102,37.7],[-105.2,35.2],[-98.8,35.2],[-79.6,35.2],[-102,32.7],[-82.9,32.7],[-98.8,30.3],[57.7,62.4],[64.1,62.4],[60.8,55],[3.4,30.3],[16.1,25.4],[41.7,25.4],[44.9,42.6],[41.7,40.2],[38.6,37.7],[44.9,37.7],[41.7,35.3],[38.6,32.7],[41.7,5.6],[38.5,3.2],[29,0.7],[38.5,-1.8],[32.2,-6.7],[99.2,40.3],[99.2,35.3],[105.6,30.4],[118.4,30.4],[89.6,27.9],[92.8,25.4],[108.8,27.9],[115.2,27.9]];

/* ---------- panel (b) AOD difference ---------- */
const patchesB = [
[-160,-147.5,64,72,'p'],[-145,-110,65,71,'p'],[-130,-110,59,65,'p'],[-135,-125,51,59,'p'],[-122.5,-110,54.5,58,'p'],[-122.5,-117.5,38,52,'p'],[-125,-120,42,48,'p'],[-117.5,-107.5,43,46,'p'],[-115,-107.5,37.5,40,'p'],[-105,-97.5,18,39,'p'],[-112.5,-105,24,32,'p'],[-92.5,-85,12,18,'p'],[-85,-80,8,14,'p'],[-75,-72.5,48,52,'p'],[-85,-80,48,50,'p'],[-75,-62.5,41,48,'p'],[-62.5,-52.5,45,52,'p'],[-72.5,-60,62,72,'p'],
[-62.5,-17.5,60,84,'p'],[-60,-45,78,84,'l'],[-45,-27.5,76,79,'l'],[-50,-45,76,79,'l'],[-47.5,-42.5,60,64,'l'],[-52.5,-50,64,66,'l'],[-27.5,-17.5,70,76,'l'],
[-75,-67.5,2,10,'p'],[-65,-57.5,4,8,'p'],[-80,-72.5,0,2,'p'],[-62.5,-50,0,4,'p'],[-52.5,-35,-14,-3,'p'],[-67.5,-37.5,-22,-13,'p'],[-52.5,-47.5,-30,-25,'p'],[-70,-65,-34,-28,'p'],[-72.5,-57.5,-40,-34,'p'],[-70,-65,-47,-40,'p'],[-75,-65,-52,-47,'p'],[-75,-72.5,-47,-44,'t'],
[-25,-12.5,63,67,'p'],[5,15,58,63,'p'],[12.5,22.5,65,69,'p'],[10,30,76,81,'p'],[62.5,85,62,75,'p'],[85,95,69,75,'p'],[100,110,66,72,'p'],[115,122.5,70,72,'p'],[127.5,142.5,61,65,'p'],[162.5,167.5,62,66,'p'],
[82.5,125,46,60,'p'],[110,122.5,53,60,'l'],[85,92.5,46,50,'l'],[100,105,46,50,'l'],[125,135,53,61,'p'],[100,135,41,54,'p'],[115,122.5,46,50,'l'],
[0,12.5,43,51,'p'],[7.5,17.5,51,53,'p'],[17.5,45,40,52,'p'],[30,45,52,58,'p'],[27.5,45,37,43,'p'],[57.5,70,38,46,'t'],[67.5,70,35,38,'t'],[75,102.5,36,41,'p'],[80,82.5,38,40,'o'],[85,87.5,38,40,'o'],
[72.5,102.5,18,34,'p'],[70,72.5,28,32,'t'],[95,100,32,34,'l'],[102.5,107.5,34,41,'l'],[82.5,85,28,30,'l'],[87.5,90,24,26,'O'],[90,95,22,24,'o'],[90,95,24,28,'l'],[72.5,80,14,28,'l'],[80,87.5,18,24,'l'],[80,87.5,22,24,'p'],[87.5,110,10,22,'p'],[75,80,8,15,'p'],
[45,60,18,25,'p'],[52.5,55,20,24,'o'],
[-17.5,35,24,37,'p'],[-5,17.5,30,32,'o'],[0,2.5,32,34,'o'],[5,12.5,26,30,'o'],[12.5,17.5,28,30,'o'],[-12.5,-10,26,28,'o'],[-7.5,-5,26,28,'o'],[22.5,25,28,30,'o'],[27.5,35,28,30,'o'],[32.5,35,26,28,'o'],[35,42.5,36,38,'o'],[35,40,30,36,'o'],[15,20,24,26,'l'],
[-15,12.5,20,24,'l'],[10,32.5,17,24,'p'],[-5,-2.5,20,24,'t'],[-17.5,-5,11,20,'p'],[-5,7.5,12,20,'l'],[0,2.5,18,20,'t'],[5,32.5,14,18,'p'],[15,20,14,18,'l'],[32.5,37.5,18,20,'o'],[32.5,35,16,18,'o'],[17.5,20,12,14,'t'],[-7.5,-2.5,8,10,'p'],[0,2.5,8,10,'p'],[22.5,25,4,6,'p'],[25,27.5,-2,0,'p'],
[17.5,20,-8,-6,'p'],[22.5,27.5,-10,-6,'p'],[15,27.5,-17,-10,'p'],[35,40,-10,-6,'p'],[40,42.5,0,2,'p'],[10,27.5,-33,-16,'p'],[22.5,25,-20,-18,'l'],[32.5,37.5,-24,-18,'p'],[22.5,30,-30,-24,'l'],[17.5,32.5,-36,-30,'p'],[27.5,32.5,-30,-24,'p'],
[42.5,52.5,-26,-14,'p'],[47.5,50,-20,-14,'l'],[110,117.5,-4,5,'p'],[100,105,-5,0,'p'],[135,145,-9,-3,'p'],
[120,137.5,-26,-19,'p'],[127.5,132.5,-19,-12,'p'],[140,145,-16,-10,'p'],[112.5,120,-26,-20,'p'],[140,145,-35,-32,'p'],[150,152.5,-38,-35,'p'],[172.5,180,-44,-36,'p'],
[137.5,142.5,36,40,'t'],[120,125,40,42,'t'],[125,130,34,40,'t'],
[105,107.5,34,36,'o'],[107.5,122.5,20,36,'l'],[110,112.5,34,36,'M'],[112.5,115,34,36,'B'],[115,120,34,36,'M'],[110,112.5,32,34,'t'],[112.5,115,32,34,'n'],[115,117.5,32,34,'B'],[117.5,120,32,34,'M'],[102.5,105,30,32,'t'],[105,107.5,30,32,'n'],[107.5,110,30,32,'w'],[110,122.5,30,32,'B'],[112.5,117.5,30,32,'N'],[102.5,107.5,28,30,'t'],[110,112.5,28,30,'B'],[112.5,115,28,30,'n'],[115,117.5,28,30,'B'],[117.5,122.5,28,30,'M'],[107.5,120,26,28,'t'],[107.5,112.5,24,26,'t'],[117.5,120,24,26,'M'],[107.5,112.5,22,24,'t'],[112.5,115,22,24,'m'],[105,107.5,20,22,'t']
];
const dotsB = [[-121.3,62.5],[-105.3,60],[-105.3,50.1],[-102.1,47.7],[-98.9,45.1],[-95.7,42.7],[-92.5,40.2],[-89.3,42.7],[-86.1,40.2],[-89.3,37.7],[-82.9,37.7],[-86.1,35.3],[-79.7,35.3],[-89.3,32.7],[57.6,57.5],[64,52.5],[67.3,50],[76.8,47.6],[102.3,57.5],[32,47.5],[38.4,47.5],[41.7,45.1],[67.3,45.1],[64,42.6],[70.4,42.6],[67.3,40.2],[41.7,40.2],[32,37.7],[38.4,37.7],[38.4,32.8],[32,27.9],[2.7,39.5],[108.7,42.6],[118.2,35.2],[115.2,32.8],[105.6,30.4],[112,30.3],[118.2,30.3],[115.2,27.9],[108.7,22.9],[137.4,-19.2],[140.6,-21.6],[143.9,-24.1]];

/* ---------- panel (c) PM2.5 difference ---------- */
const patchesC = [
[-165,-130,66,72,'p'],[-162.5,-155,62,66,'p'],[-140,-120,60,67,'p'],[-135,-120,54,67,'p'],[-120,-100,64,71,'p'],[-127.5,-75,66,75,'p'],[-90,-75,75,82,'p'],[-82.5,-65,55,73,'p'],[-120,-112.5,56,58,'p'],[-80,-75,48,54,'p'],[-75,-65,52,54,'p'],[-65,-55,51,56,'p'],[-75,-62.5,42,52,'p'],
[-130,-107.5,48,56,'p'],[-125,-100,38,50,'p'],[-120,-115,38.5,44.5,'l'],[-115,-107.5,52,56,'l'],[-105,-97.5,28,36,'p'],[-107.5,-105,28,32,'p'],[-105,-100,18.5,22.5,'p'],[-100,-95,17.5,20,'p'],[-92.5,-90,16,18.5,'p'],[-87.5,-82.5,8,14.5,'p'],
[-75,-67.5,7,11,'p'],[-65,-57.5,4,11,'p'],[-55,-50,2,5,'p'],[-65,-60,-4,-2,'p'],[-57.5,-50,-6,0,'p'],[-50,-37.5,-15,-6,'p'],[-42.5,-40,-6,-4,'p'],[-75,-55,-12.5,-8.5,'p'],[-67.5,-40,-24,-14.7,'p'],[-70,-57.5,-35,-16,'p'],[-65,-62.5,-28,-20,'l'],[-57.5,-50,-33,-24,'l'],[-72.5,-65,-38,-28,'p'],[-75,-72.5,-42,-39,'p'],[-75,-65,-52,-42,'p'],
[-57.5,-52.5,60,70,'p'],[-27.5,-22.5,65,67,'p'],[-25,-12.5,63,67,'p'],
[5,12.5,59.5,65,'p'],[15,25,65,71,'p'],[17.5,42.5,48,60,'p'],[2.5,22.5,46,50,'p'],[-7.5,0,37,44,'p'],[27.5,40,36,40,'s'],[37.5,52.5,40,46,'s'],[42.5,47.5,44,46,'l'],
[80,180,63,77,'p'],[130,180,66,72,'l'],[87.5,92.5,65,69,'l'],[117.5,120,69,71,'l'],[172.5,180,61,67,'l'],[125,127.5,65,67,'l'],[97.5,145,51,62,'p'],[110,117.5,58,60,'l'],[122.5,142.5,52,60,'l'],[110,120,53,56,'l'],[102.5,140,40,53,'p'],[80,102.5,32,47,'p'],[95,102.5,39,44,'l'],
[77.5,87.5,37,40,'s'],[80,82.5,38,40,'a'],[85,87.5,38,40,'O'],[80,85,36,38,'O'],[85,87.5,36,38,'s'],[102.5,105,40,42,'s'],[105,107.5,40,42,'O'],[100,102.5,38,40,'s'],
[55,110,10,36,'p'],[95,105,30,32,'l'],[110,120,28,36,'l'],[115,120,32,36,'a'],[115,120,30,32,'a'],[112.5,115,30,34,'M'],[112.5,115,28,30,'a'],[112.5,115,22,24,'a'],[105,112.5,16,22,'l'],[72.5,80,8,12,'l'],[92.5,97.5,10,14,'l'],
[62.5,67.5,58,60,'p'],[60,62.5,59,61,'p'],[60,62.5,55,57,'p'],[50,55,51,54,'p'],
[50,55,46,48,'M'],[55,80,46,48,'a'],[70,75,48,50,'a'],[55,60,44,46,'N'],[60,62.5,44,46,'M'],[62.5,67.5,44,46,'B'],[67.5,70,44,46,'M'],[70,75,44,46,'a'],[55,57.5,42,44,'B'],[57.5,60,42,44,'N'],[60,62.5,42,44,'n'],[62.5,67.5,42,44,'m'],[67.5,75,42,44,'a'],[55,57.5,40,42,'n'],[57.5,60,40,42,'B'],[60,62.5,40,42,'M'],[62.5,65,40,42,'N'],[65,67.5,40,42,'B'],[67.5,70,40,42,'a'],[55,57.5,38,40,'t'],[62.5,67.5,38,40,'m'],[67.5,70,38,40,'a'],[55,57.5,36,38,'a'],[62.5,65,36,38,'m'],[65,67.5,36,38,'t'],[62.5,67.5,32,36,'a'],[60,62.5,28,32,'a'],[67.5,70,28,32,'m'],[65,67.5,30,32,'a'],[72.5,75,30,32,'O'],[70,77.5,28,30,'s'],[67.5,72.5,24,26,'s'],[80,82.5,26,28,'s'],[82.5,85,24,26,'s'],
[35,47.5,21,35,'p'],[35,37.5,30,32,'O'],[37.5,40,30,32,'s'],[45,47.5,30,34,'a'],[45,50,14,26,'a'],[47.5,50,20,22,'m'],[50,60,15,22,'p'],[50,52.5,22,24,'d'],[52.5,55,22,24,'o'],[50,52.5,20,22,'r'],[50,52.5,18,20,'s'],
/* Sahara dipole */
[-7.5,37.5,15,36,'p'],[-17.5,-7.5,11,20,'p'],
[-2.5,0,34,36,'O'],[-7.5,-2.5,32.5,34.5,'O'],[-2.5,2.5,32.5,34.5,'s'],[2.5,5,32.5,34.5,'O'],[5,7.5,32.5,34.5,'r'],[-7.5,-2.5,30.5,32.5,'O'],[-2.5,0,30.5,32.5,'r'],[0,2.5,30.5,32.5,'O'],[2.5,7.5,30.5,32.5,'r'],[7.5,10,30.5,32.5,'O'],[-7.5,-2.5,28.5,30.5,'O'],[0,2.5,28.5,30.5,'s'],[2.5,5,28.5,30.5,'r'],[5,7.5,28.5,30.5,'d'],[7.5,10,28.5,30.5,'r'],[10,17.5,28.5,30.5,'s'],[-10,-7.5,26.5,28.5,'s'],[-7.5,-2.5,26.5,28.5,'d'],[-2.5,0,26.5,28.5,'r'],[0,7.5,26.5,28.5,'O'],[7.5,10,26.5,28.5,'s'],[-2.5,0,24.5,26.5,'r'],[5,10,24.5,26.5,'s'],
[17.5,27.5,24,32,'r'],[17.5,22.5,30.5,32.5,'O'],[20,22.5,26.5,29,'d'],[22.5,27.5,24,27,'O'],[15,20,20,22,'O'],[15,20,22,24,'s'],[20,25,20,24,'s'],[25,30,22,28,'s'],[30,35,18,22,'O'],[30,32.5,18,20,'r'],
[-10,-7.5,22,24,'M'],[-12.5,-10,22,24,'a'],[-7.5,-2.5,22,24,'l'],[0,5,22,24,'a'],[5,10,22,24,'l'],[-15,-2.5,20,22,'M'],[0,2.5,20,22,'a'],[2.5,7.5,20,22,'l'],[7.5,10,20,22,'a'],[-15,-12.5,18,20,'M'],[-12.5,-10,18,20,'a'],[-10,-2.5,18,20,'l'],[-2.5,2.5,18,20,'N'],[2.5,10,18,20,'l'],[10,15,18,20,'a'],[-17.5,-12.5,16,18,'a'],[-10,-5,16,18,'a'],[-2.5,0,16,18,'m'],[0,2.5,16,18,'a'],[2.5,7.5,16,18,'M'],[15,17.5,16,18,'r'],[17.5,20,16,18,'O'],[27.5,37.5,16,18,'s'],[-7.5,-2.5,14,16,'a'],[-2.5,0,14,16,'m'],[0,2.5,14,16,'s'],[5,12.5,14,16,'O'],[15,17.5,14,16,'M'],[17.5,22.5,14,16,'a'],[7.5,12.5,12,14,'s'],[15,20,12,14,'a'],[22.5,42.5,12,16,'p'],[7.5,12.5,3,12,'p'],[35,37.5,2,5,'p'],[20,25,4,6,'p'],[12.5,15,2,6,'p'],
[15,37.5,-20,-6.5,'p'],[22.5,25,-12,-10,'l'],[10,17.5,-35,-15,'p'],[15,27.5,-26,-21,'l'],[15,32.5,-35,-26,'p'],[27.5,32.5,-21,-20,'l'],
[42.5,50,-26,-12,'p'],[45,50,-24,-19,'l'],
[112.5,152.5,-37,-20,'p'],[137.5,147.5,-30,-22,'l'],[130,137.5,-31,-28.5,'l'],[117.5,125,-25,-20.5,'l'],[147.5,152.5,-33,-30,'l'],
[112.5,120,-4,4,'p'],[100,105,-4,0,'p'],[135,147.5,-10,-4,'p'],[172.5,180,-44,-36,'p'],[120,125,6,19,'p']
];
const dotsC = [[-48.1,76.4],[-41.7,76.4],[-35.3,76.4],[-28.8,76.4],[-44.9,73.9],[-38.4,73.9],[-32,73.9],[-41.7,71.5],[-35.3,71.5],[-28.8,71.5],[-116,49],[-106.3,56.5],[-90.2,38.9],[-83.7,38.9],[-86.9,36.5],[-80.5,36.5],[-83.7,34],[-45,-11],[-70.8,64],[-122.4,64],[106.9,71.4],[77.8,68.9],[155.4,68.9],[161.8,68.9],[116.6,63.9],[119.9,61.4],[52,58.9],[74.6,56.4],[81.1,56.4],[77.8,53.9],[84.3,53.9],[132.8,56.4],[129.5,53.9],[39.2,53.9],[68.2,51.4],[81.1,51.4],[110.1,48.9],[39.2,48.9],[71.5,48.9],[55.3,46.4],[68.2,46.4],[71.5,43.9],[26.3,43.9],[68.2,41.4],[42.3,41.4],[32.7,38.9],[39.2,38.9],[68.2,36.3],[116.6,34],[113.4,31.4],[110.1,28.9],[26.3,28.9],[7,28.9],[23,26.5],[29.4,26.5],[26.3,23.9],[32.7,23.9],[26.1,-1],[3,39.7]];

/* ---------- drawing ---------- */
const NS = 'http://www.w3.org/2000/svg';
const fig = document.getElementById('fig');
function mk(tag, attrs, parent) {
  const el = document.createElementNS(NS, tag);
  for (const k in attrs) el.setAttribute(k, attrs[k]);
  parent.appendChild(el);
  return el;
}
function colorOf(code) { return levelColors[levelCodes.indexOf(code)]; }
function label(parent, str, x, y, size, anchor, width, name, style) {
  const el = mk('text', {x: x, y: y, 'font-size': size, 'text-anchor': anchor}, parent);
  if (width) { el.setAttribute('textLength', width); el.setAttribute('lengthAdjust', 'spacingAndGlyphs'); }
  if (style) el.setAttribute('font-style', style);
  el.textContent = str;
  
  
  return el;
}

function drawPanel(p) {
  const g = mk('g', {}, fig);
  
  
  const xOf = lon => p.left + (lon + 180) * (p.right - p.left) / 360;
  const yOf = lat => p.top + (90 - lat) * (p.bottom - p.top) / 150;
  const snapLon = lon => Math.round(lon / 2.5) * 2.5;
  const step = 180 / 95;
  const snapLat = lat => -90 + step * (Math.round((lat + 90) / step - 0.5) + 0.5);
  const ptsOf = a => { let s = ''; for (let i = 0; i < a.length; i += 2) s += xOf(a[i]).toFixed(1) + ',' + yOf(a[i + 1]).toFixed(1) + ' '; return s; };

  const clip = mk('clipPath', {id: p.id + '-land'}, g);
  
  
  landPolygons.forEach(a => { mk('polygon', {points: ptsOf(a)}, clip); });

  if (p.base) {
    const baseG = mk('g', {fill: colorOf('l'), stroke: colorOf('l'), 'stroke-width': 5, 'stroke-linejoin': 'round'}, g);
    
    
    landPolygons.forEach(a => { mk('polygon', {points: ptsOf(a)}, baseG); });
  }

  const cells = mk('g', {'clip-path': 'url(#' + p.id + '-land)', 'shape-rendering': 'crispEdges'}, g);
  
  
  p.patches.forEach(c => {
    let lon0 = snapLon(c[0]), lon1 = snapLon(c[1]);
    if (lon1 <= lon0) lon1 = lon0 + 2.5;
    let lat0 = snapLat(c[2]), lat1 = snapLat(c[3]);
    if (lat1 <= lat0) lat1 = lat0 + step;
    const r = mk('rect', {x: xOf(lon0).toFixed(1), y: yOf(lat1).toFixed(1), width: (xOf(lon1) - xOf(lon0)).toFixed(1), height: (yOf(lat0) - yOf(lat1)).toFixed(1), fill: colorOf(c[4])}, cells);
    
    
  });

  const coast = mk('g', {fill: 'none', stroke: '#000', 'stroke-width': p.coastWidth, 'stroke-linejoin': 'round'}, g);
  
  
  landPolygons.forEach(a => { mk('polygon', {points: ptsOf(a)}, coast); });
  lakePolygons.forEach((a, i) => {
    const lake = mk('polygon', {points: ptsOf(a)}, coast);
    if (i === 0 && p.caspianWhite) lake.setAttribute('fill', '#fff');
  });
  islandSpecks.forEach(s => { mk('circle', {cx: xOf(s[0]).toFixed(1), cy: yOf(s[1]).toFixed(1), r: 2.4, fill: '#000', stroke: 'none'}, coast); });

  const dots = mk('g', {fill: '#000'}, g);
  
  
  p.dots.forEach(d => {
    const c = mk('circle', {cx: xOf(d[0]).toFixed(1), cy: yOf(d[1]).toFixed(1), r: p.dotR}, dots);
    
    
  });

  /* frame */
  const frame = mk('rect', {x: p.left, y: p.top, width: p.right - p.left, height: p.bottom - p.top, fill: 'none', stroke: '#000', 'stroke-width': p.frameWidth}, g);
  
  

  /* ticks and tick labels */
  latTicks.forEach((lat, i) => {
    const t = mk('line', {x1: p.left - 34, x2: p.left, y1: yOf(lat), y2: yOf(lat), stroke: '#000', 'stroke-width': p.frameWidth}, g);
    
    
    label(g, latTickLabels[i], p.left - 63, yOf(lat) + 16, p.tickFont, 'end', 0, 'y-tick-label');
  });
  lonTicks.forEach((lon, i) => {
    const t = mk('line', {x1: xOf(lon), x2: xOf(lon), y1: p.bottom, y2: p.bottom + 36, stroke: '#000', 'stroke-width': p.frameWidth}, g);
    
    
    label(g, lonTickLabels[i], xOf(lon), p.bottom + 99, p.tickFont, 'middle', 0, 'x-tick-label');
  });

  /* global mean box */
  const box = mk('rect', {x: p.boxLeft, y: p.boxTop, width: p.right - p.boxLeft, height: p.bottom - p.boxTop, fill: '#fff', stroke: '#000', 'stroke-width': 3}, g);
  
  

  /* colour bar */
  const barW = (p.barRight - p.barLeft) / p.barLevels.length;
  const bar = mk('g', {}, g);
  
  
  p.barLevels.forEach((code, i) => {
    const s = mk('rect', {x: (p.barLeft + i * barW).toFixed(1), y: p.barTop, width: barW.toFixed(1), height: p.barBottom - p.barTop, fill: colorOf(code), stroke: '#000', 'stroke-width': 2}, bar);
    
    
  });
  const outline = mk('rect', {x: p.barLeft, y: p.barTop, width: p.barRight - p.barLeft, height: p.barBottom - p.barTop, fill: 'none', stroke: '#000', 'stroke-width': 3}, bar);
  
  
  p.barLabels.forEach((txt, i) => {
    label(bar, txt, p.barLeft + (1 + i * p.barEvery) * barW, p.barBaseline, p.barFont, 'middle', 0, 'colorbar-label');
  });
  return g;
}

const panelA = drawPanel({name:'panel-a-mda8-ozone', id:'pa', left:178, right:1998, top:136, bottom:1116, patches:patchesA, dots:dotsA, base:false, caspianWhite:false, coastWidth:3, dotR:3.3, frameWidth:5, tickFont:45, boxLeft:1500, boxTop:1038, barLevels:barLevelsA, barLabels:barLabelsA, barEvery:2, barLeft:29, barRight:2029, barTop:1291, barBottom:1370, barBaseline:1428, barFont:47});
const panelB = drawPanel({name:'panel-b-aod', id:'pb', left:186, right:2005, top:1667, bottom:2647, patches:patchesB, dots:dotsB, base:true, caspianWhite:true, coastWidth:2.8, dotR:2.7, frameWidth:4.5, tickFont:45, boxLeft:1621, boxTop:2579, barLevels:barLevelsB, barLabels:barLabelsB, barEvery:1, barLeft:36, barRight:2037, barTop:2823, barBottom:2900, barBaseline:2963, barFont:47});
const panelC = drawPanel({name:'panel-c-pm25', id:'pc', left:190, right:1990, top:3204, bottom:4174, patches:patchesC, dots:dotsC, base:true, caspianWhite:false, coastWidth:2.8, dotR:2.7, frameWidth:4.5, tickFont:45, boxLeft:1461, boxTop:4088, barLevels:barLevelsC, barLabels:barLabelsC, barEvery:1, barLeft:41, barRight:2022, barTop:4349, barBottom:4428, barBaseline:4485, barFont:47});

/* titles: panel a */
label(panelA, '(a)', 177, 58, 53, 'start', 62, 'panel-a-letter');
label(panelA, '△', 257, 52, 38, 'start', 30, 'delta-symbol');
label(panelA, 'MDA8O', 289, 58, 53, 'start', 196, 'panel-a-title');
label(panelA, '3', 487, 69, 30, 'start', 16, 'panel-a-title-subscript');
label(panelA, '(ppbv)', 523, 58, 53, 'start', 153, 'panel-a-units');
label(panelA, 'DIF: O3_online - O3_offline JJA', 1211, 60, 53, 'start', 787, 'panel-a-right-title');
label(panelA, 'Global AVE: 0.03 ppbv', 1515, 1089, 44, 'start', 466, 'global-average-text');
/* titles: panel b */
label(panelB, '(b)', 182, 1589, 50, 'start', 66, 'panel-b-letter');
label(panelB, '△', 264, 1583, 36, 'start', 29, 'delta-symbol');
label(panelB, 'AOD', 294, 1589, 50, 'start', 119, 'panel-b-title');
label(panelB, 'DIF: O3_online - O3_offline JJA', 1215, 1592, 53, 'start', 790, 'panel-b-right-title');
label(panelB, 'Global AVE: 0.00', 1637, 2630, 44, 'start', 353, 'global-average-text');
/* titles: panel c */
label(panelC, '(c)', 187, 3129, 50, 'start', 61, 'panel-c-letter');
label(panelC, '△', 264, 3122, 36, 'start', 29, 'delta-symbol');
label(panelC, 'pm2.5', 294, 3129, 50, 'start', 152, 'panel-c-title');
label(panelC, '(', 464, 3129, 50, 'start', 17, 'panel-c-units-open');
label(panelC, 'μ', 481, 3129, 50, 'start', 32, 'panel-c-units-mu', 'italic');
label(panelC, 'g', 513, 3129, 50, 'start', 43, 'panel-c-units-g');
label(panelC, 'm', 569, 3129, 50, 'start', 48, 'panel-c-units-m');
label(panelC, '-3', 620, 3097, 30, 'start', 29, 'panel-c-units-exponent');
label(panelC, ')', 649, 3129, 50, 'start', 14, 'panel-c-units-close');
label(panelC, 'DIF: O3_online - O3_offline JJA', 1210, 3129, 53, 'start', 780, 'panel-c-right-title');
label(panelC, 'Global AVE: 0.05', 1474, 4147, 44, 'start', 352, 'global-average-text');
label(panelC, 'μ', 1836, 4147, 44, 'start', 28, 'global-average-mu', 'italic');
label(panelC, 'g', 1864, 4147, 44, 'start', 34, 'global-average-g');
label(panelC, 'm', 1911, 4147, 44, 'start', 40, 'global-average-m');
label(panelC, '-3', 1953, 4120, 26, 'start', 24, 'global-average-exponent');
</script>
</body>
</html>
